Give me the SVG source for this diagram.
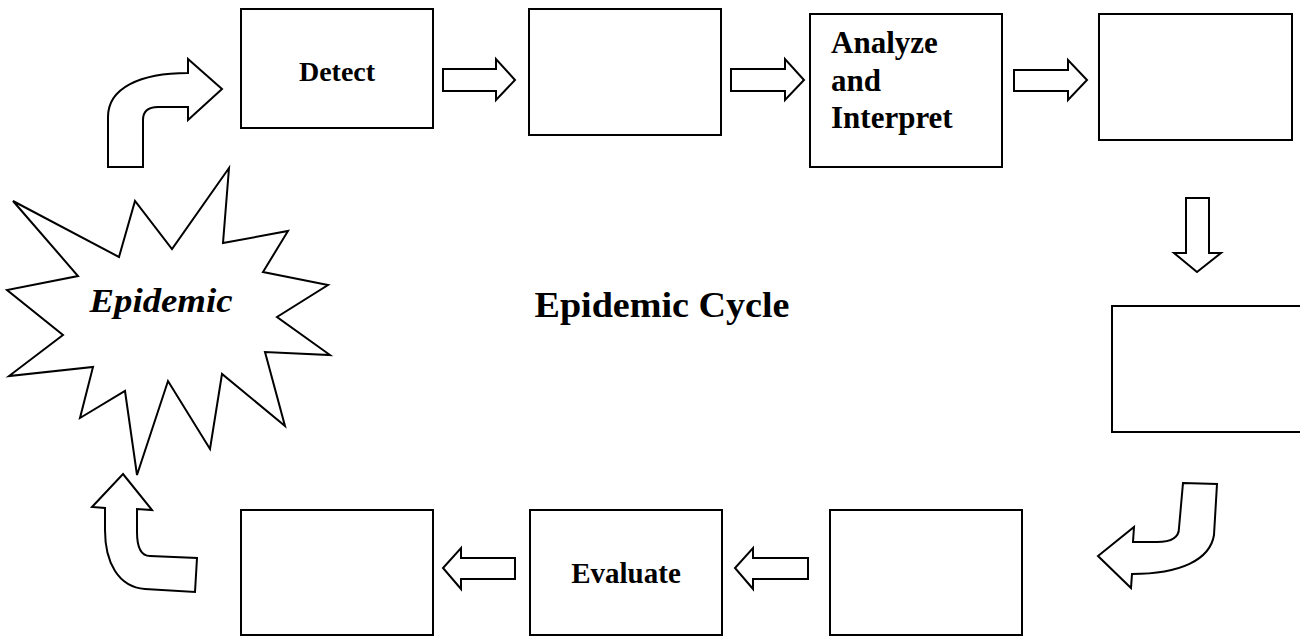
<svg xmlns="http://www.w3.org/2000/svg" width="1300" height="636" viewBox="0 0 1300 636">
<style>
.box{fill:#fff;stroke:#000;stroke-width:2}
.arr{fill:#fff;stroke:#000;stroke-width:2;stroke-linejoin:miter}
.lbl{font-family:"Liberation Serif","Times New Roman",serif;font-weight:bold;fill:#000}
</style>
<rect width="1300" height="636" fill="#fff"/>
<g id="epidemic">
<polygon class="arr" points="229,168 223,243 288,231 263,272 328,285 277,317 330,355 265,352 285,426 222,374 210,449 168,381 137,475 125,391 80,418 93,367 9,376 63,335 7,290 78,276 13,201 119,257 135,201 172,249"/>
<text class="lbl" x="161" y="312" font-size="33" font-style="italic" text-anchor="middle" textLength="143" lengthAdjust="spacingAndGlyphs">Epidemic</text>
</g>
<g id="title">
<text class="lbl" x="662" y="317" font-size="36" text-anchor="middle" textLength="255" lengthAdjust="spacingAndGlyphs">Epidemic Cycle</text>
</g>
<g id="detect">
<rect class="box" x="241" y="9" width="192" height="119"/>
<text class="lbl" x="337" y="81" font-size="28" text-anchor="middle">Detect</text>
</g>
<g id="box2"><rect class="box" x="529" y="9" width="192" height="126"/></g>
<g id="analyze">
<rect class="box" x="810" y="14" width="192" height="153"/>
<text class="lbl" font-size="31"><tspan x="831" y="53">Analyze</tspan><tspan x="831" y="91">and</tspan><tspan x="831" y="128">Interpret</tspan></text>
</g>
<g id="box4"><rect class="box" x="1099" y="14" width="193" height="126"/></g>
<g id="box5"><rect class="box" x="1112" y="306" width="192" height="126"/></g>
<g id="box6"><rect class="box" x="830" y="510" width="192" height="125"/></g>
<g id="evaluate">
<rect class="box" x="530" y="510" width="192" height="125"/>
<text class="lbl" x="626" y="583" font-size="29" text-anchor="middle">Evaluate</text>
</g>
<g id="box8"><rect class="box" x="241" y="510" width="192" height="125"/></g>
<g id="connectors">
<path class="arr" d="M108,167 L108,117 C108,88 140,73 188,73 L188,59 L222,89 L188,120 L188,107 L158,107 C149,107 143,111 143,120 L143,167 Z"/>
<polygon class="arr" points="443,69 496,69 496,59 515,80 496,100 496,91 443,91"/>
<polygon class="arr" points="731,69 785,69 785,59 804,80 785,100 785,91 731,91"/>
<polygon class="arr" points="1014,70 1068,70 1068,60 1087,80 1068,100 1068,91 1014,91"/>
<polygon class="arr" points="1186,198 1209,198 1209,253 1221,253 1197,272 1174,253 1186,253"/>
<path class="arr" d="M1183,483 L1217,484 L1214,535 C1210,560 1180,574 1132,574 L1131,588 L1098,556 L1134,527 L1133,542 L1157,542 C1170,542 1179,538 1179,528 Z"/>
<polygon class="arr" points="808,558 753,558 753,548 735,568 753,589 753,579 808,579"/>
<polygon class="arr" points="515,558 461,558 461,548 443,568 461,589 461,579 515,579"/>
<path class="arr" d="M123,474 L152,510 L137,509 L137,532 C137,548 141,556 150,556 L197,558 L195,592 L145,589 C118,587 105,562 105,530 L105,508 L92,507 Z"/>
</g>
</svg>
